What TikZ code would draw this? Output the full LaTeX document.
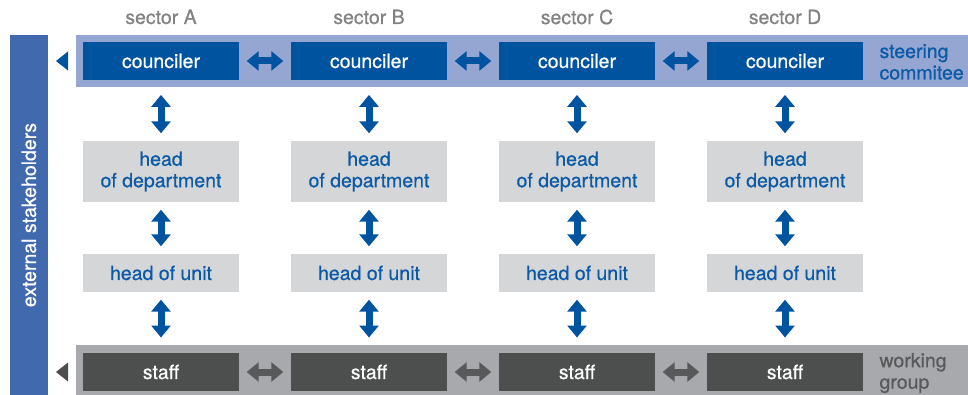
\documentclass[tikz,border=0pt]{standalone}
\usepackage{fontspec}
\setmainfont{TeX Gyre Heros}[FakeBold=0.6]
\usetikzlibrary{arrows.meta, positioning, calc}

\definecolor{bandblue}{HTML}{94A6D1}
\definecolor{darkblue}{HTML}{00539F}
\definecolor{barblue}{HTML}{4169AE}
\definecolor{textblue}{HTML}{0B5AA7}
\definecolor{lightbox}{HTML}{D5D6D7}
\definecolor{bandgray}{HTML}{A7A9AC}
\definecolor{staffgray}{HTML}{4D4F4E}
\definecolor{arrowgray}{HTML}{58595B}
\definecolor{labelgray}{HTML}{828282}

\tikzset{
  txt/.style={font=\fontsize{19.5}{21.5}\selectfont},
  box/.style={txt, minimum width=156pt, inner sep=0pt},
  counc/.style={box, fill=darkblue, text=white, minimum height=38pt},
  hod/.style={box, fill=lightbox, text=textblue, minimum height=61pt, align=center},
  hou/.style={box, fill=lightbox, text=textblue, minimum height=38pt},
  staffbox/.style={box, fill=staffgray, text=white, minimum height=38pt},
  band/.style={inner sep=0pt, minimum width=892pt, anchor=north west},
  dbl/.style={line width=7pt, shorten <=7.5pt, shorten >=7.5pt,
    {Triangle[width=19pt,length=12pt]}-{Triangle[width=19pt,length=12pt]}},
}

\begin{document}
\begin{tikzpicture}[x=1pt, y=-1pt]
\useasboundingbox (0,0) rectangle (968,395);

% bands and side bar
\node[band, fill=bandblue, minimum height=52pt] (steer) at (76,35) {};
\node[band, fill=bandgray, minimum height=50pt] (work) at (76,345) {};
\node[txt, fill=barblue, text=white, rotate=90, inner sep=0pt,
  minimum width=360pt, minimum height=38pt] (ext) at (29,215) {external stakeholders};

\node[txt, text=textblue, anchor=west, align=left] (steerlbl) at (876,62) {steering\\commitee};
\node[txt, text=arrowgray, anchor=west, align=left] (worklbl) at (876,373) {working\\group};

% sectors
\foreach \s/\x [count=\i] in {A/161, B/369, C/577, D/785} {
  \node[txt, text=labelgray, inner sep=0pt] (sec\i) at (\x,17) {sector \s};
  \node[counc] (c\i) at (\x,61) {counciler};
  \node[hod] (d\i) at (\x,171.5) {head\\of department};
  \node[hou] (u\i) at (\x,273) {head of unit};
  \node[staffbox] (w\i) at (\x,372) {staff};
  \draw[dbl, darkblue] (c\i |- steer.south) -- (d\i);
  \draw[dbl, darkblue] (d\i) -- (u\i);
  \draw[dbl, darkblue] (u\i) -- (u\i |- work.north);
}
\foreach \i/\j in {1/2, 2/3, 3/4} {
  \draw[dbl, darkblue] (c\i) -- (c\j);
  \draw[dbl, arrowgray] (w\i) -- (w\j);
}

% pointers to the stakeholders
\fill[darkblue] ([xshift=-8pt]c1.west -| steer.west) -- ++(0,-9.5) -- ++(-12,9.5) -- ++(12,9.5) -- cycle;
\fill[staffgray] ([xshift=-8pt]w1.west -| work.west) -- ++(0,-9.5) -- ++(-12,9.5) -- ++(12,9.5) -- cycle;
\end{tikzpicture}
\end{document}
